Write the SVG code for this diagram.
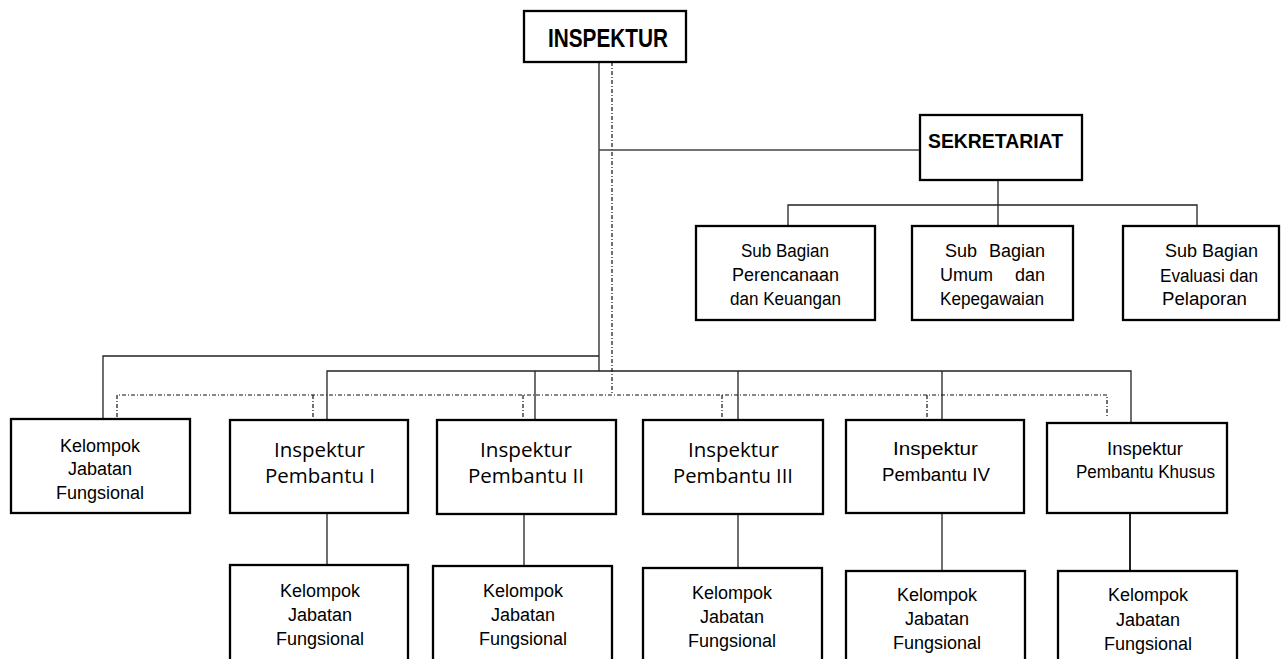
<svg xmlns="http://www.w3.org/2000/svg" width="1288" height="659" viewBox="0 0 1288 659">
<style>
.box{fill:#fff;stroke:#000;stroke-width:2.3}
.ln{fill:none;stroke:#222;stroke-width:1.3}
.ds{fill:none;stroke:#111;stroke-width:1.2;stroke-dasharray:4 2 1 2}
.a{font-family:"Liberation Sans",Arial,sans-serif;font-size:18px;fill:#000}
.ab{font-family:"Liberation Sans",Arial,sans-serif;font-weight:bold;fill:#000}
.c{font-family:"Open Sans","Noto Sans",sans-serif;font-size:20px;fill:#000}
.m{text-anchor:middle}
</style>
<rect width="1288" height="659" fill="#fff"/>
<g id="connectors">
<path class="ln" d="M599 62V371"/>
<path class="ds" d="M612 62V395"/>
<path class="ln" d="M599 150H920" style="stroke:#444;stroke-width:1.6"/>
<path class="ln" d="M998 180V226M788 226V205H1197V226"/>
<path class="ln" d="M599 356H103V419"/>
<path class="ln" d="M327 420V371H1131V423M535 371V420M738 371V420M942 371V420"/>
<path class="ds" d="M117 417V395H1107V417M313 395V417M523 395V417M722 395V417M927 395V417"/>
<path class="ln" d="M327 513V565M524 514V566M738 514V568M942 513V571"/>
<path class="ln" d="M1130 513V571" style="stroke-width:2"/>
</g>
<g id="inspektur"><rect class="box" x="524" y="11" width="162" height="51"/><text class="ab" x="548" y="47" font-size="25" textLength="120" lengthAdjust="spacingAndGlyphs">INSPEKTUR</text></g>
<g id="sekretariat"><rect class="box" x="920" y="115" width="162" height="65"/><text class="ab" x="928" y="148" font-size="21" textLength="135" lengthAdjust="spacingAndGlyphs">SEKRETARIAT</text></g>
<g id="sub1"><rect class="box" x="696" y="226" width="179" height="94"/>
<text class="a" x="741" y="257" textLength="88" lengthAdjust="spacingAndGlyphs">Sub Bagian</text>
<text class="a" x="732" y="281" textLength="107" lengthAdjust="spacingAndGlyphs">Perencanaan</text>
<text class="a" x="730" y="305" textLength="111" lengthAdjust="spacingAndGlyphs">dan Keuangan</text></g>
<g id="sub2"><rect class="box" x="912" y="226" width="161" height="94"/>
<text class="a" x="945" y="257">Sub</text><text class="a" x="1045" y="257" text-anchor="end">Bagian</text>
<text class="a" x="940" y="281">Umum</text><text class="a" x="1045" y="281" text-anchor="end">dan</text>
<text class="a" x="940" y="305" textLength="104" lengthAdjust="spacingAndGlyphs">Kepegawaian</text></g>
<g id="sub3"><rect class="box" x="1123" y="226" width="156" height="94"/>
<text class="a" x="1165" y="257">Sub</text><text class="a" x="1258" y="257" text-anchor="end">Bagian</text>
<text class="a" x="1160" y="282" textLength="98" lengthAdjust="spacingAndGlyphs">Evaluasi dan</text>
<text class="a" x="1162" y="305" textLength="85" lengthAdjust="spacingAndGlyphs">Pelaporan</text></g>
<g id="kjf0"><rect class="box" x="11" y="419" width="179" height="94"/>
<text class="a m" x="100" y="452">Kelompok</text><text class="a m" x="100" y="475">Jabatan</text><text class="a m" x="100" y="499">Fungsional</text></g>
<g id="ip1"><rect class="box" x="230" y="420" width="178" height="93"/>
<text class="c" x="274" y="457" textLength="91" lengthAdjust="spacingAndGlyphs">Inspektur</text>
<text class="c" x="265" y="483" textLength="110" lengthAdjust="spacingAndGlyphs">Pembantu I</text></g>
<g id="ip2"><rect class="box" x="437" y="420" width="179" height="94"/>
<text class="c" x="480" y="457" textLength="92" lengthAdjust="spacingAndGlyphs">Inspektur</text>
<text class="c" x="468" y="483" textLength="116" lengthAdjust="spacingAndGlyphs">Pembantu II</text></g>
<g id="ip3"><rect class="box" x="643" y="420" width="180" height="94"/>
<text class="c" x="688" y="457" textLength="91" lengthAdjust="spacingAndGlyphs">Inspektur</text>
<text class="c" x="673" y="483" textLength="120" lengthAdjust="spacingAndGlyphs">Pembantu III</text></g>
<g id="ip4"><rect class="box" x="846" y="420" width="178" height="93"/>
<text class="a" x="893" y="455" font-size="21" textLength="85" lengthAdjust="spacingAndGlyphs">Inspektur</text>
<text class="a" x="882" y="481" font-size="21" textLength="108" lengthAdjust="spacingAndGlyphs">Pembantu IV</text></g>
<g id="ipk"><rect class="box" x="1047" y="423" width="180" height="90"/>
<text class="a" x="1107" y="455" textLength="76" lengthAdjust="spacingAndGlyphs">Inspektur</text>
<text class="a" x="1076" y="478" textLength="139" lengthAdjust="spacingAndGlyphs">Pembantu Khusus</text></g>
<g id="kjf1"><rect class="box" x="230" y="565" width="178" height="100"/>
<text class="a m" x="320" y="597">Kelompok</text><text class="a m" x="320" y="621">Jabatan</text><text class="a m" x="320" y="645">Fungsional</text></g>
<g id="kjf2"><rect class="box" x="433" y="566" width="179" height="100"/>
<text class="a m" x="523" y="597">Kelompok</text><text class="a m" x="523" y="621">Jabatan</text><text class="a m" x="523" y="645">Fungsional</text></g>
<g id="kjf3"><rect class="box" x="643" y="568" width="179" height="100"/>
<text class="a m" x="732" y="599">Kelompok</text><text class="a m" x="732" y="623">Jabatan</text><text class="a m" x="732" y="647">Fungsional</text></g>
<g id="kjf4"><rect class="box" x="846" y="571" width="179" height="100"/>
<text class="a m" x="937" y="601">Kelompok</text><text class="a m" x="937" y="625">Jabatan</text><text class="a m" x="937" y="649">Fungsional</text></g>
<g id="kjf5"><rect class="box" x="1058" y="571" width="179" height="100"/>
<text class="a m" x="1148" y="601">Kelompok</text><text class="a m" x="1148" y="626">Jabatan</text><text class="a m" x="1148" y="650">Fungsional</text></g>
</svg>
